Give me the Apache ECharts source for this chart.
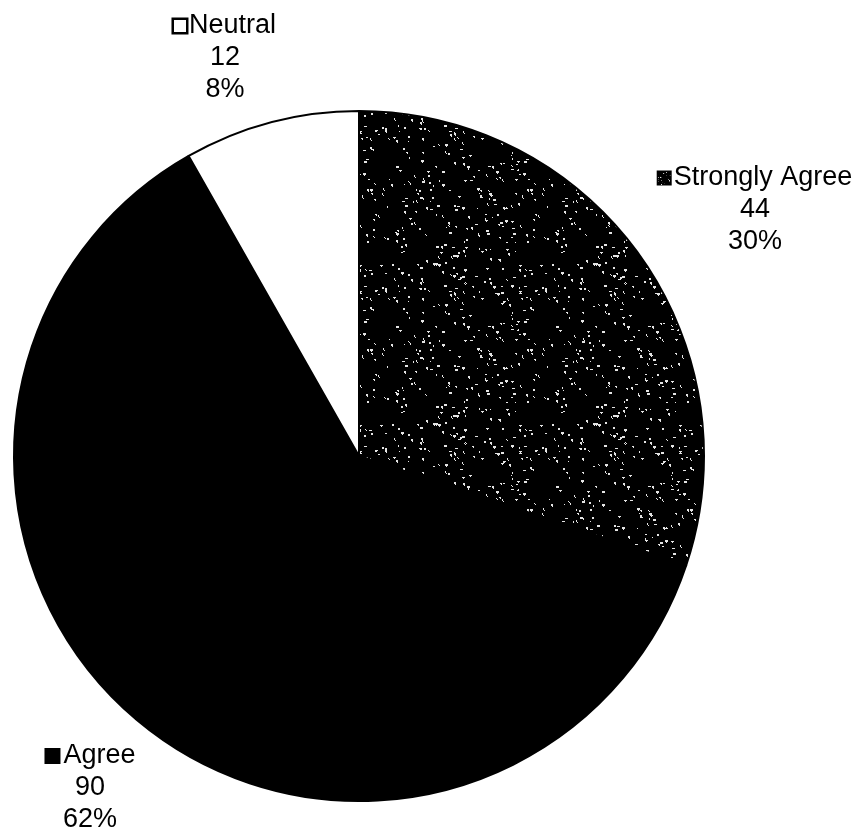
<!DOCTYPE html>
<html>
<head>
<meta charset="utf-8">
<script src="https://cdn.jsdelivr.net/npm/echarts@6/dist/echarts.min.js"></script>
<style>
html, body { margin: 0; padding: 0; background: #fff; }
#chart { width: 857px; height: 836px; }
</style>
</head>
<body>
<div id="chart"></div>
<script>
// data
var categories = ['Strongly Agree', 'Agree', 'Neutral'];
var values = [44, 90, 12];

// speckled texture for the "Strongly Agree" slice
function makeSpeckle(size, count) {
  var c = document.createElement('canvas');
  c.width = size; c.height = size;
  var ctx = c.getContext('2d');
  ctx.fillStyle = '#000';
  ctx.fillRect(0, 0, size, size);
  ctx.fillStyle = '#e4e4e4';
  var s = 98765;
  function next() { s = (s * 1103515245 + 12345) % 2147483648; return s / 2147483648; }
  for (var i = 0; i < count; i++) {
    var x = Math.floor(next() * size), y = Math.floor(next() * size);
    var w = 1 + Math.floor(next() * 3), h = 1 + Math.floor(next() * 2);
    ctx.fillRect(x, y, w, h);
    if (next() > 0.5) ctx.fillRect(x + 1, y + h, 1, 1);
  }
  return c;
}
var speckle = makeSpeckle(160, 300);
var fills = [{ image: speckle, repeat: 'repeat' }, '#000', '#fff'];

// label anchor points (centre of the middle line)
var labelPos = [[755, 210], [90, 788], [225, 58]];

var myChart = echarts.init(document.getElementById('chart'));
myChart.setOption({
  animation: false,
  series: [{
    type: 'pie',
    center: [359, 456],
    radius: 345,
    startAngle: 90,
    clockwise: true,
    data: categories.map(function (name, i) {
      return { name: name, value: values[i], itemStyle: { color: fills[i] } };
    }),
    itemStyle: { borderColor: '#000', borderWidth: 2 },
    emphasis: { disabled: true },
    labelLine: { show: false },
    label: {
      show: true,
      color: '#000',
      fontFamily: 'Liberation Sans, Arial, sans-serif',
      fontSize: 27,
      lineHeight: 32,
      align: 'center',
      overflow: 'none',
      alignTo: 'none',
      formatter: function (p) {
        var m = ['ms', 'ma', 'mn'][p.dataIndex];
        return '{' + m + '|}{t|' + p.name + '}\n' + p.value + '\n' + Math.round(p.percent) + '%';
      },
      rich: {
        t: { fontSize: 27, lineHeight: 32, color: '#000', fontFamily: 'Liberation Sans, Arial, sans-serif', padding: [0, 0, 0, 3] },
        ms: { width: 13, height: 13, backgroundColor: { image: speckle }, borderColor: '#000', borderWidth: 2 },
        ma: { width: 16, height: 16, backgroundColor: '#000' },
        mn: { width: 12, height: 12, backgroundColor: '#fff', borderColor: '#000', borderWidth: 2.5 }
      }
    },
    labelLayout: function (params) {
      var pos = labelPos[params.dataIndex];
      return { x: pos[0], y: pos[1], align: 'center', verticalAlign: 'middle', width: 300 };
    }
  }]
});
</script>
</body>
</html>
